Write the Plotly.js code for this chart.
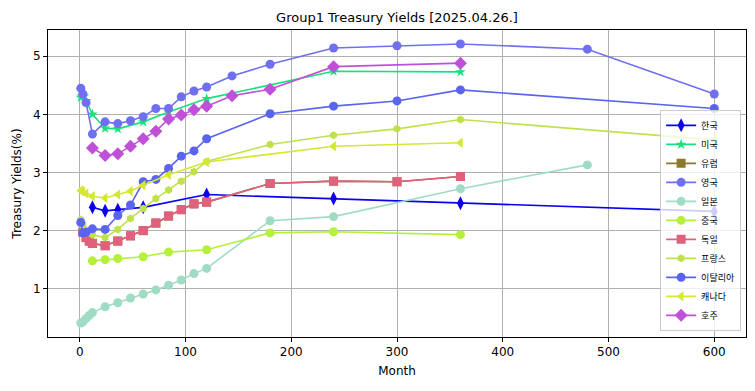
<!DOCTYPE html>
<html>
<head>
<meta charset="utf-8">
<script src="https://cdn.plot.ly/plotly-3.0.1.min.js"></script>
<style>html,body{margin:0;padding:0;background:#fff;}#chart{width:755px;height:391px;}</style>
</head>
<body>
<div id="chart"></div>
<script>
// ---- data (months to maturity, yield %) ----
const seriesNames = ["한국", "미국", "유럽", "영국", "일본", "중국", "독일", "프랑스", "이탈리아", "캐나다", "호주"];

const krMonths = [12, 24, 36, 60, 120, 240, 360, 600];
const krYields = [2.40, 2.34, 2.36, 2.40, 2.62, 2.55, 2.47, 2.33];

const usMonths = [1, 2, 3, 4, 6, 12, 24, 36, 60, 84, 120, 240, 360];
const usYields = [4.29, 4.31, 4.33, 4.31, 4.23, 4.00, 3.76, 3.75, 3.87, 4.04, 4.27, 4.74, 4.73];

const euMonths = [3, 6, 9, 12, 24, 36, 48, 60, 72, 84, 96, 108, 120, 180, 240, 300, 360];
const euYields = [1.97, 1.88, 1.82, 1.78, 1.74, 1.82, 1.91, 2.00, 2.13, 2.25, 2.36, 2.46, 2.49, 2.81, 2.85, 2.84, 2.93];

const ukMonths = [1, 3, 6, 12, 24, 36, 48, 60, 72, 84, 96, 108, 120, 144, 180, 240, 300, 360, 480, 600];
const ukYields = [4.45, 4.35, 4.20, 3.66, 3.87, 3.84, 3.89, 3.96, 4.10, 4.10, 4.30, 4.40, 4.47, 4.66, 4.86, 5.14, 5.18, 5.21, 5.12, 4.35];

const jpMonths = [1, 3, 6, 9, 12, 24, 36, 48, 60, 72, 84, 96, 108, 120, 180, 240, 360, 480];
const jpYields = [0.41, 0.43, 0.49, 0.54, 0.59, 0.69, 0.76, 0.84, 0.91, 0.98, 1.06, 1.15, 1.26, 1.35, 2.17, 2.24, 2.72, 3.13];

const cnMonths = [12, 24, 36, 60, 84, 120, 180, 240, 360];
const cnYields = [1.48, 1.50, 1.52, 1.55, 1.63, 1.67, 1.96, 1.98, 1.93];

const deMonths = [3, 6, 9, 12, 24, 36, 48, 60, 72, 84, 96, 108, 120, 180, 240, 300, 360];
const deYields = [1.97, 1.88, 1.82, 1.78, 1.74, 1.82, 1.91, 2.00, 2.13, 2.25, 2.36, 2.46, 2.49, 2.81, 2.85, 2.84, 2.93];

const frMonths = [1, 3, 6, 12, 24, 36, 48, 60, 72, 84, 96, 108, 120, 180, 240, 300, 360, 600];
const frYields = [2.19, 2.10, 2.01, 1.93, 1.88, 2.02, 2.21, 2.38, 2.55, 2.70, 2.85, 3.01, 3.19, 3.48, 3.64, 3.75, 3.91, 3.56];

const itMonths = [1, 3, 6, 12, 24, 36, 48, 60, 72, 84, 96, 108, 120, 180, 240, 300, 360, 600];
const itYields = [2.14, 1.96, 1.97, 2.03, 2.02, 2.26, 2.44, 2.84, 2.88, 3.07, 3.28, 3.37, 3.58, 4.01, 4.14, 4.23, 4.42, 4.10];

const caMonths = [1, 2, 3, 6, 12, 24, 36, 48, 60, 84, 120, 240, 360];
const caYields = [2.69, 2.68, 2.67, 2.64, 2.59, 2.56, 2.62, 2.68, 2.78, 2.96, 3.18, 3.45, 3.51];

const auMonths = [12, 24, 36, 48, 60, 72, 84, 96, 108, 120, 144, 180, 240, 360];
const auYields = [3.42, 3.29, 3.32, 3.45, 3.58, 3.71, 3.92, 3.99, 4.08, 4.14, 4.32, 4.43, 4.82, 4.88];

const xTicks = [0, 100, 200, 300, 400, 500, 600];
const yTicks = [1, 2, 3, 4, 5];

// ---- styles ----
const colors  = ["#0a00ee", "#14e27c", "#8c7a2c", "#6f6ff0", "#a0dcc4", "#b5f03c", "#e0607e", "#bfe24a", "#5a64f0", "#d4e830", "#c050d8"];
const symbols = ["diamond-tall", "star", "square", "circle", "circle", "circle", "square", "hexagon", "circle", "triangle-left", "diamond"];
const sizes   = [10, 8, 9, 9, 9, 9, 9, 8, 9, 9, 10];
const xs = [krMonths, usMonths, euMonths, ukMonths, jpMonths, cnMonths, deMonths, frMonths, itMonths, caMonths, auMonths];
const ys = [krYields, usYields, euYields, ukYields, jpYields, cnYields, deYields, frYields, itYields, caYields, auYields];

const traces = seriesNames.map((n, i) => ({
  type: "scatter", mode: "lines+markers", name: n,
  x: xs[i], y: ys[i],
  line: {color: colors[i], width: 1.6},
  marker: {color: colors[i], symbol: symbols[i], size: sizes[i], line: {width: 0}}
}));

const font = {family: "DejaVu Sans, sans-serif", size: 12, color: "#000"};
const layout = {
  width: 755, height: 391,
  margin: {l: 48, r: 9, t: 30, b: 54},
  paper_bgcolor: "#fff", plot_bgcolor: "#fff",
  font: font,
  title: {text: "Group1 Treasury Yields [2025.04.26.]", font: {family: "DejaVu Sans, sans-serif", size: 13, color: "#000"},
          x: 0.5, xref: "paper", xanchor: "center", y: 1 - 17/391, yref: "container", yanchor: "middle"},
  xaxis: {
    range: [-30, 630], tickvals: xTicks, ticktext: xTicks.map(String),
    showgrid: true, gridcolor: "#b0b0b0", gridwidth: 1, zeroline: false,
    showline: true, mirror: true, linecolor: "#000", linewidth: 1,
    ticks: "outside", ticklen: 4, tickcolor: "#000",
    tickfont: {family: "DejaVu Sans, sans-serif", size: 12, color: "#000"},
    title: {text: "Month", font: {family: "DejaVu Sans, sans-serif", size: 12, color: "#000"}, standoff: 8}
  },
  yaxis: {
    range: [0.17, 5.45], tickvals: yTicks, ticktext: yTicks.map(String),
    showgrid: true, gridcolor: "#b0b0b0", gridwidth: 1, zeroline: false,
    showline: true, mirror: true, linecolor: "#000", linewidth: 1,
    ticks: "outside", ticklen: 4, tickcolor: "#000",
    tickfont: {family: "DejaVu Sans, sans-serif", size: 12, color: "#000"},
    title: {text: "Treasury Yields(%)", font: {family: "DejaVu Sans, sans-serif", size: 12, color: "#000"}, standoff: 8}
  },
  showlegend: true,
  legend: {
    x: 0.993, y: 0.02, xanchor: "right", yanchor: "bottom",
    bgcolor: "rgba(255,255,255,0.8)", bordercolor: "#cccccc", borderwidth: 1,
    font: {family: "Noto Sans CJK KR, sans-serif", size: 9, color: "#000"},
    tracegroupgap: 0, itemwidth: 30
  }
};

Plotly.newPlot("chart", traces, layout, {staticPlot: true, displayModeBar: false});
</script>
</body>
</html>
